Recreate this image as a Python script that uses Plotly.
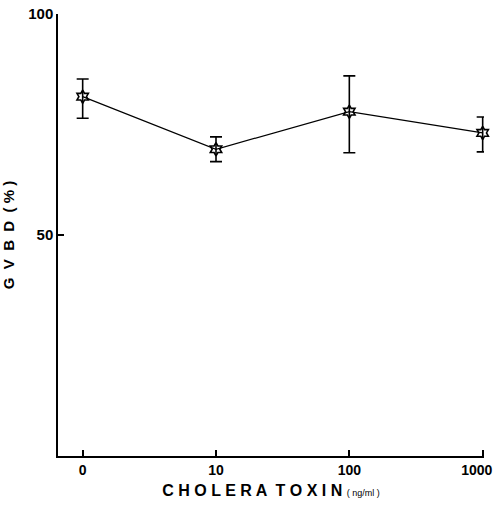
import plotly.graph_objects as go

categories = ["0", "10", "100", "1000"]
gvbd = [81.3, 69.4, 77.9, 73.1]
err_plus = [4.0, 2.8, 8.1, 3.6]
err_minus = [4.9, 2.8, 9.3, 4.3]

FONT = "Liberation Sans, Arial, sans-serif"

# last label padded so it stays inside the page, as in the reference
tick_text = ["<b>" + c + "</b>" for c in categories]
tick_text[-1] = tick_text[-1] + "\u00a0\u00a0\u00a0"

fig = go.Figure()
fig.add_trace(go.Scatter(
    x=list(range(len(categories))), y=gvbd,
    mode="lines+markers",
    line=dict(color="black", width=1.2),
    marker=dict(symbol="hexagram-open", size=10, color="black", line=dict(width=1.6, color="black")),
    error_y=dict(type="data", symmetric=False, array=err_plus, arrayminus=err_minus,
                 color="black", thickness=1.6, width=6),
    cliponaxis=False,
    showlegend=False,
))

fig.update_layout(
    width=494, height=514,
    margin=dict(l=58, r=10, t=14, b=58, autoexpand=False),
    plot_bgcolor="white", paper_bgcolor="white",
    font=dict(family=FONT, color="black"),
    xaxis=dict(
        range=[-0.185, 3.01],
        automargin=False,
        tickmode="array", tickvals=list(range(len(categories))),
        ticktext=tick_text,
        ticklabeloverflow="allow",
        ticks="inside", ticklen=6, tickwidth=1.5, tickcolor="black",
        showline=True, linecolor="black", linewidth=1.5,
        showgrid=False, zeroline=False,
        tickfont=dict(size=14, family=FONT),
        title=dict(text="<b>C H O L E R A  T O X I N</b> <span style='font-size:9px'>( ng/ml )</span>",
                   font=dict(size=16, family=FONT), standoff=8),
    ),
    yaxis=dict(
        range=[0, 100],
        automargin=False,
        tickmode="array", tickvals=[50, 100], ticktext=["<b>50</b>", "<b>100</b>"],
        ticks="inside", ticklen=6, tickwidth=1.5, tickcolor="black",
        showline=True, linecolor="black", linewidth=1.5,
        showgrid=False, zeroline=False,
        tickfont=dict(size=15, family=FONT),
        title=dict(text="<b>G  V  B  D  ( % )</b>", font=dict(size=15, family=FONT), standoff=12),
    ),
)

fig.write_html("out.html")
